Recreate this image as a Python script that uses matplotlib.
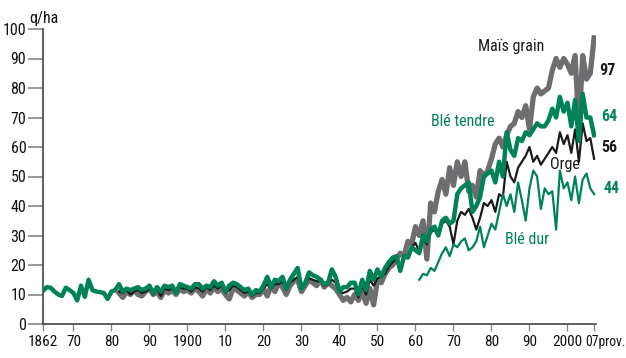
import matplotlib
matplotlib.use("Agg")
import matplotlib.pyplot as plt
from matplotlib import font_manager as fm
import matplotlib.transforms as mtransforms

# ---------------- data (q/ha) ----------------
ble_tendre_years = list(range(1862, 2008))
ble_tendre = [
    11.2, 12.5, 12.3, 11, 10, 9.5, 12.3, 11.5,            # 1862-1869
    10.5, 8, 13, 9.2, 15, 11.5, 11, 10.8, 10.5, 8.5,       # 1870-1879
    11, 11.5, 13.5, 11, 12, 11.5, 12, 12.5, 11.5, 12,      # 1880-1889
    13, 10.5, 12.5, 11, 13, 12.5, 13, 10.5, 13.5, 13,      # 1890-1899
    12.5, 12, 13.5, 13.5, 12, 13, 12.5, 14.5, 13, 14,      # 1900-1909
    11, 13, 14, 13.5, 12.5, 11.5, 12, 10, 11.5, 11,        # 1910-1919
    13, 16, 12.5, 15, 14.5, 16, 12, 15, 17, 19,            # 1920-1929
    12, 14, 17.5, 16.5, 16, 15, 13.5, 14, 18.5, 16,        # 1930-1939
    11, 12.5, 12.5, 14, 14, 10, 15, 11.5, 18, 15,          # 1940-1949
    18.5, 16, 19, 21, 22.5, 23, 18, 23, 22.5, 26,          # 1950-1959
    25, 24, 30, 28, 32, 33, 30, 35, 36, 34,                # 1960-1969
    35, 44, 46, 47, 48, 38, 40, 43, 50, 51,                # 1970-1979
    52, 48, 55, 50, 65, 59, 57, 63, 62, 65,                # 1980-1989
    64, 66, 68, 67, 67, 69, 73, 70, 77, 72,                # 1990-1999
    75, 67, 76, 62, 78, 70, 70, 64,                        # 2000-2007
]

mais_years = list(range(1882, 2008))
mais = [
    10.5, 9, 11, 10, 11.5, 10, 9.5, 11,                    # 1882-1889
    12, 10, 11, 9, 11.5, 10.5, 11.5, 10, 12, 11,           # 1890-1899
    11.5, 10.5, 12, 11, 9.5, 12, 10.5, 12.5, 11, 12,       # 1900-1909
    10, 8.5, 12, 11.5, 10.5, 9.5, 11, 9, 10, 10,           # 1910-1919
    12, 9.5, 13, 11, 14, 12.5, 10, 13, 14.5, 15,           # 1920-1929
    11, 13, 15, 14, 13, 15, 12.5, 14, 13, 12,              # 1930-1939
    10, 8, 9, 7.5, 10, 8, 11, 7, 12, 6.5,                  # 1940-1949
    15, 14, 17, 19, 20, 22, 24, 23, 28, 27,                # 1950-1959
    33, 30, 35, 22, 41, 38, 45, 49, 44, 53,                # 1960-1969
    47, 55, 50, 55, 45, 47, 43, 52, 50, 52,                # 1970-1979
    56, 61, 63, 60, 64, 67, 68, 72, 70, 74,                # 1980-1989
    66, 77, 80, 78, 79, 80, 86, 90, 87, 90,                # 1990-1999
    88, 85, 91, 67, 91, 83, 85, 97,                        # 2000-2007
]

orge_years = list(range(1882, 2008))
orge = [
    11, 10.5, 11.5, 10, 11, 11.5, 10.5, 11,                # 1882-1889
    12, 10, 12, 9.5, 12, 11.5, 12, 10.5, 12.5, 12,         # 1890-1899
    12, 11, 12.5, 12, 11, 12.5, 11.5, 13, 12, 13,          # 1900-1909
    10.5, 11.5, 13, 12.5, 11.5, 10.5, 11, 9.5, 10.5, 10.5, # 1910-1919
    12, 13.5, 12, 13.5, 13.5, 14.5, 11.5, 14, 15, 16,      # 1920-1929
    12, 13.5, 15.5, 15, 14.5, 14.5, 13, 13.5, 15, 14,      # 1930-1939
    11, 10.5, 11, 12, 12, 9, 13, 10, 15, 13,               # 1940-1949
    15.5, 16, 17, 19.5, 21, 22, 19, 23, 23, 26,            # 1950-1959
    27.5, 24.5, 29, 27, 31, 32, 30, 34, 35, 33,            # 1960-1969
    27, 35, 38, 37, 39, 36, 32, 36, 41, 40,                # 1970-1979
    42, 38, 44, 43, 55, 50, 48, 53, 55, 57,                # 1980-1989
    60, 55, 57, 54, 56, 58, 60, 58, 65, 61,                # 1990-1999
    64, 58, 66, 55, 68, 62, 63, 56,                        # 2000-2007
]

ble_dur_years = list(range(1961, 2008))
ble_dur = [
    15, 17, 16.5, 19, 18, 21, 24, 26, 23,                  # 1961-1969
    27, 26, 28, 29, 25, 26, 28, 33, 26, 30,                # 1970-1979
    34, 32, 38, 44, 40, 44, 38, 48, 42, 35,                # 1980-1989
    46, 52, 50, 39, 46, 44, 45, 32, 52, 46,                # 1990-1999
    48, 42, 50, 41, 49, 51, 46, 44,                        # 2000-2007
]

x_tick_years = [1862, 1870, 1880, 1890, 1900, 1910, 1920, 1930, 1940, 1950,
                1960, 1970, 1980, 1990, 2000, 2007]
x_tick_labels = ["1862", "70", "80", "90", "1900", "10", "20", "30", "40", "50",
                 "60", "70", "80", "90", "2000", "07prov."]
y_ticks = [0, 10, 20, 30, 40, 50, 60, 70, 80, 90, 100]

# ---------------- style ----------------
avail = {f.name for f in fm.fontManager.ttflist}
fam = "DejaVu Sans"
for cand in ["Liberation Sans Narrow", "Roboto Condensed", "Open Sans Condensed", "Noto Sans"]:
    if cand in avail:
        fam = cand
        break
plt.rcParams["font.family"] = [fam, "DejaVu Sans"]

GREEN = "#008259"
GRAY = "#6e6e70"
DARK = "#1a1a1a"

W, H = 626, 358
fig = plt.figure(figsize=(W / 100, H / 100), dpi=100)
ax_left, ax_right = 43 / W, 596 / W
ax_bottom, ax_top = 1 - 324 / H, 1 - 29 / H
ax = fig.add_axes([ax_left, ax_bottom, ax_right - ax_left, ax_top - ax_bottom])

ax.plot(mais_years, mais, color=GRAY, lw=3.8, zorder=2)
ax.plot(orge_years, orge, color=DARK, lw=1.6, zorder=3)
ax.plot(ble_tendre_years, ble_tendre, color=GREEN, lw=3.2, zorder=4)
ax.plot(ble_dur_years, ble_dur, color=GREEN, lw=1.6, zorder=5)

ax.set_xlim(1862, 2007.5)
ax.set_ylim(0, 100)
ax.set_xticks(x_tick_years)
ax.set_xticklabels(x_tick_labels)
ax.set_yticks(y_ticks)

for s in ["top", "right"]:
    ax.spines[s].set_visible(False)
for s in ["left", "bottom"]:
    ax.spines[s].set_color("#444444")
    ax.spines[s].set_linewidth(1.2)
ax.tick_params(axis="y", direction="out", length=11, width=1.2, color="#888888",
               labelsize=11.5, pad=1, labelcolor="#111111")
ax.tick_params(axis="x", direction="out", length=5, width=1.0, color="#888888",
               labelsize=11, pad=3, labelcolor="#111111")
last = ax.xaxis.get_major_ticks()[-1].label1
last.set_horizontalalignment("left")
last.set_fontsize(9.8)
last.set_transform(last.get_transform() + mtransforms.ScaledTranslation(-6.5 / 72, 0, fig.dpi_scale_trans))
ax.patch.set_alpha(0)

# annotations
ax.text(1858.3, 101, "q/ha", fontsize=11.5, color="#111111", ha="left", va="bottom",
        clip_on=False)
ax.text(1976.5, 94, "Maïs grain", fontsize=11.5, color=DARK, ha="left", va="center")
ax.text(1964, 68.5, "Blé tendre", fontsize=11.5, color=GREEN, ha="left", va="center")
ax.text(1995.5, 54, "Orge", fontsize=11.5, color=DARK, ha="left", va="center")
ax.text(1983.5, 28.5, "Blé dur", fontsize=11.5, color=GREEN, ha="left", va="center")
ax.text(2008.3, 86, "97", fontsize=11.5, color=DARK, ha="left", va="center",
        fontweight="bold", clip_on=False)
ax.text(2008.8, 70.5, "64", fontsize=11.5, color=GREEN, ha="left", va="center",
        fontweight="bold", clip_on=False)
ax.text(2008.8, 60, "56", fontsize=11.5, color=DARK, ha="left", va="center",
        fontweight="bold", clip_on=False)
ax.text(2009.5, 46, "44", fontsize=11.5, color=GREEN, ha="left", va="center",
        fontweight="bold", clip_on=False)

fig.savefig("out.png", dpi=100)
